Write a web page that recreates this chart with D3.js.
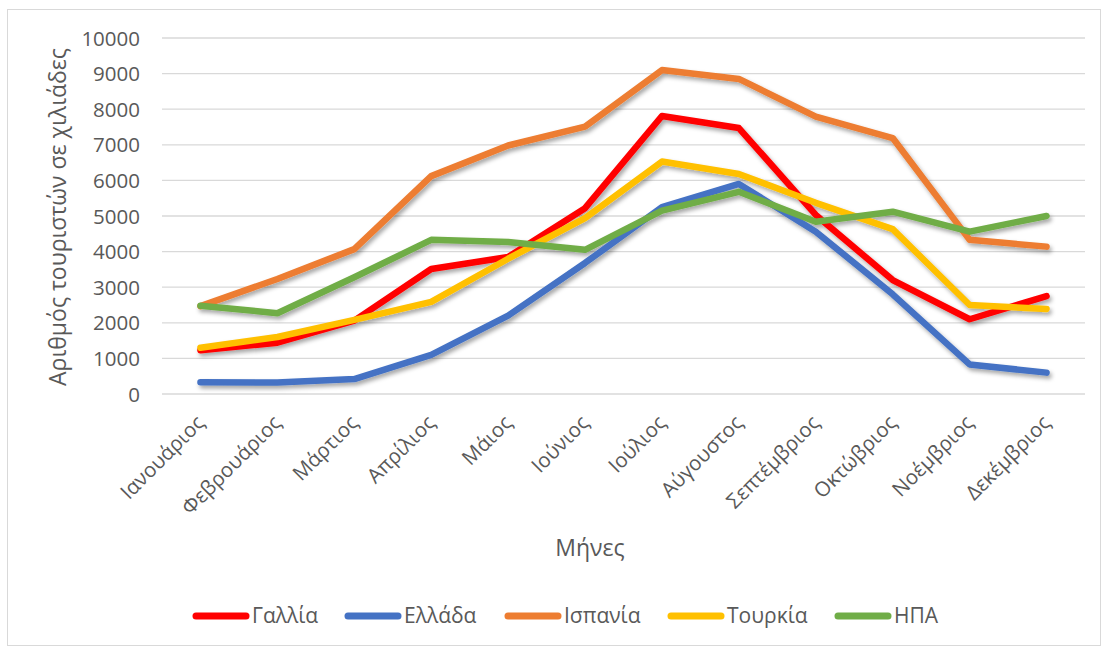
<!DOCTYPE html>
<html><head><meta charset="utf-8">
<script src="https://cdn.jsdelivr.net/npm/d3@7"></script>
<style>body{margin:0;background:#fff}svg{display:block}text{font-family:"Open Sans",sans-serif;fill:#595959}</style>
</head><body>
<svg id="c" width="1110" height="651"></svg>
<script>
const months = ["Ιανουάριος","Φεβρουάριος","Μάρτιος","Απρίλιος","Μάιος","Ιούνιος","Ιούλιος","Αύγουστος","Σεπτέμβριος","Οκτώβριος","Νοέμβριος","Δεκέμβριος"];
const gallia  = [1230,1440,2060,3510,3850,5220,7810,7470,5030,3200,2100,2750];
const ellada  = [330,320,420,1100,2200,3680,5250,5900,4560,2800,830,600];
const ispania = [2470,3230,4070,6120,6980,7510,9100,8850,7790,7190,4330,4140];
const tourkia = [1300,1600,2080,2590,3800,4940,6530,6180,5370,4630,2500,2390];
const ipa     = [2480,2270,3280,4330,4270,4050,5150,5680,4840,5120,4560,5000];
const seriesNames = ["Γαλλία","Ελλάδα","Ισπανία","Τουρκία","ΗΠΑ"];
const seriesColors = ["#FF0000","#4472C4","#ED7D31","#FFC000","#70AD47"];
const seriesData = [gallia, ellada, ispania, tourkia, ipa];
const yTicks = [0,1000,2000,3000,4000,5000,6000,7000,8000,9000,10000];

const svg = d3.select("#c");
const defs = svg.append("defs");
const f = defs.append("filter").attr("id","sh").attr("x","-10%").attr("y","-10%").attr("width","120%").attr("height","130%");
f.append("feDropShadow").attr("dx",2).attr("dy",3).attr("stdDeviation",2).attr("flood-color","#000").attr("flood-opacity",0.35);

svg.append("rect").attr("x",7.5).attr("y",9.5).attr("width",1093).attr("height",636)
  .attr("fill","#fff").attr("stroke","#d9d9d9");

const L=162, R=1085, T=38, B=394;
const x = d3.scaleBand().domain(months).range([L,R]);
const y = d3.scaleLinear().domain([0,10000]).range([B,T]);

// gridlines
svg.append("g").selectAll("line").data(yTicks).join("line")
  .attr("x1",L).attr("x2",R).attr("y1",d=>y(d)).attr("y2",d=>y(d))
  .attr("stroke","#d9d9d9").attr("stroke-width",1.3);

// y axis
const ya = svg.append("g").attr("transform",`translate(${L},0)`)
  .call(d3.axisLeft(y).tickValues(yTicks).tickSize(0).tickPadding(22).tickFormat(d3.format("d")));
ya.select(".domain").remove();
ya.selectAll("text").style("font-size","20.5px").attr("fill","#595959").attr("dy","0.35em");

// x axis
const xa = svg.append("g").attr("transform",`translate(0,${B})`)
  .call(d3.axisBottom(x).tickSize(0).tickPadding(0));
xa.select(".domain").remove();
xa.selectAll("text").style("font-size","20.5px").attr("fill","#595959")
  .attr("text-anchor","end").attr("dy",0).attr("y",0)
  .attr("transform","translate(5,30) rotate(-45)");

// lines
const line = d3.line().x((d,i)=>x(months[i])+x.bandwidth()/2).y(d=>y(d));
const lg = svg.append("g").attr("filter","url(#sh)");
seriesData.forEach((s,k)=>{
  lg.append("path").datum(s).attr("d",line).attr("fill","none")
    .attr("stroke",seriesColors[k]).attr("stroke-width",6.5)
    .attr("stroke-linejoin","round").attr("stroke-linecap","round");
});

// axis titles
svg.append("text").attr("transform","translate(66,217) rotate(-90)").attr("text-anchor","middle")
  .style("font-size","23px").text("Αριθμός τουριστών σε χιλιάδες");
svg.append("text").attr("x",590).attr("y",556).attr("text-anchor","middle")
  .style("font-size","23px").text("Μήνες");

// legend
const legX = [193,345,505,668,835];
const leg = svg.append("g");
seriesNames.forEach((n,k)=>{
  const g = leg.append("g").attr("transform",`translate(${legX[k]},616)`);
  g.append("line").attr("x1",3).attr("x2",53).attr("y1",0).attr("y2",0)
    .attr("stroke",seriesColors[k]).attr("stroke-width",7).attr("stroke-linecap","round");
  g.append("text").attr("x",59).attr("y",0).attr("dy","0.35em").style("font-size","21px").text(n);
});
</script>
</body></html>
